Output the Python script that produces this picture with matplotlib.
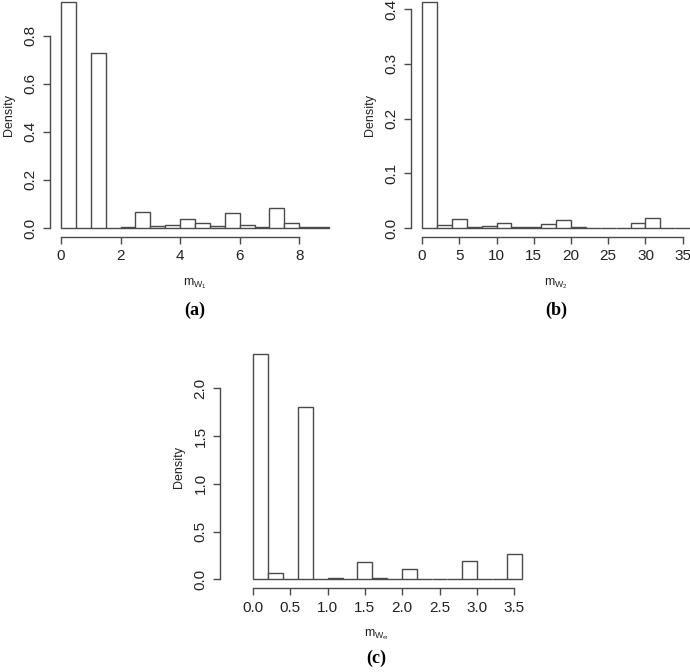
import matplotlib.pyplot as plt
import numpy as np

# bin edges and densities
edges_a = np.arange(0, 9.01, 0.5)
dens_a = [0.94, 0.0, 0.73, 0.0, 0.002, 0.067, 0.008, 0.012, 0.036, 0.020,
          0.008, 0.063, 0.014, 0.004, 0.084, 0.022, 0.004, 0.002]

edges_b = np.arange(0, 36.01, 2)
dens_b = [0.413, 0.006, 0.0165, 0.0025, 0.0037, 0.0085, 0.002, 0.001, 0.0067,
          0.015, 0.0018, 0.0006, 0.0003, 0.0006, 0.0085, 0.018, 0.0002, 0.0]

edges_c = np.arange(0, 3.61, 0.2)
dens_c = [2.36, 0.063, 0.0, 1.80, 0.0, 0.017, 0.0, 0.18, 0.01, 0.0,
          0.108, 0.0, 0.003, 0.0, 0.19, 0.0, 0.0, 0.265]

xticks_a = [0, 2, 4, 6, 8]
yticks_a = [0.0, 0.2, 0.4, 0.6, 0.8]
xticks_b = [0, 5, 10, 15, 20, 25, 30, 35]
yticks_b = [0.0, 0.1, 0.2, 0.3, 0.4]
xticks_c = [0.0, 0.5, 1.0, 1.5, 2.0, 2.5, 3.0, 3.5]
yticks_c = [0.0, 0.5, 1.0, 1.5, 2.0]

W, H = 690, 672
fig = plt.figure(figsize=(W / 100, H / 100), dpi=100)
plt.rcParams['font.family'] = 'Liberation Sans'

edge = '#4a4a4a'


def panel(px_left, px_right, px_bottom, px_top, edges, dens, xlim, ylim,
          xticks, yticks, xfmt, yfmt, sub, tag, tag_off):
    ax = fig.add_axes([px_left / W, 1 - px_bottom / H,
                       (px_right - px_left) / W, (px_bottom - px_top) / H])
    widths = np.diff(edges)
    ax.bar(edges[:-1], dens, width=widths, align='edge', color='white',
           edgecolor=edge, linewidth=1.0)
    ax.set_xlim(*xlim)
    ax.set_ylim(*ylim)
    for s in ('top', 'right'):
        ax.spines[s].set_visible(False)
    for s in ('left', 'bottom'):
        ax.spines[s].set_color(edge)
        ax.spines[s].set_linewidth(1.0)
    ax.spines['bottom'].set_bounds(xticks[0], xticks[-1])
    ax.spines['left'].set_bounds(yticks[0], yticks[-1])
    ax.set_xticks(xticks)
    ax.set_xticklabels([xfmt.format(v) for v in xticks])
    ax.set_yticks(yticks)
    ax.set_yticklabels([yfmt.format(v) for v in yticks], rotation=90,
                       va='center')
    ax.tick_params(length=5, width=1.0, color=edge, labelsize=11,
                   labelcolor='#222222', pad=4)
    ax.set_ylabel('Density', fontsize=9, color='#222222', labelpad=6)
    ax.set_xlabel(r'$\mathregular{m_{W_{%s}}}$' % sub, fontsize=9,
                  color='#222222', labelpad=9)
    # panel tag below the axis, fixed pixel offset
    ax.annotate(tag, xy=(0.5, 0), xycoords='axes fraction',
                xytext=(0, -tag_off * 0.72), textcoords='offset points',
                ha='center', va='center', fontsize=13, fontweight='bold',
                family='Liberation Serif')
    return ax


panel(50.3, 339.7, 237, -7, edges_a, dens_a, (-0.36, 9.36),
      (-0.0376, 0.9776), xticks_a, yticks_a, '{:d}', '{:.1f}', '1', '(a)', 73)
panel(411.3, 700.9, 237, -7, edges_b, dens_b, (-1.44, 37.44),
      (-0.0165, 0.4295), xticks_b, yticks_b, '{:d}', '{:.1f}', '2', '(b)', 73)
panel(220, 533, 588.3, 345, edges_c, dens_c, (-0.44, 3.75),
      (-0.0944, 2.4544), xticks_c, yticks_c, '{:.1f}', '{:.1f}',
      r'\infty', '(c)', 70)

fig.savefig('out.png', dpi=100)
